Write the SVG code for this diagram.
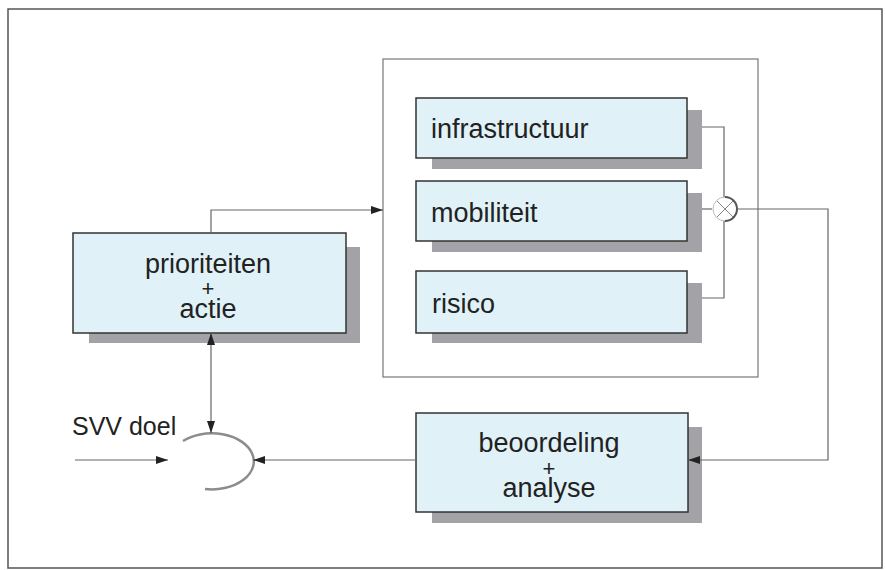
<svg xmlns="http://www.w3.org/2000/svg" width="885" height="570" viewBox="0 0 885 570">
<defs>
<marker id="arr" viewBox="0 0 12 8" refX="12" refY="4" markerWidth="12" markerHeight="8" markerUnits="userSpaceOnUse" orient="auto-start-reverse">
<path d="M0,0 L12,4 L0,8 z" fill="#222"/>
</marker>
<style>
.box{fill:#e0f1f7;stroke:#333;stroke-width:1.5}
.sh{fill:#a3a3a7}
.ln{fill:none;stroke:#666;stroke-width:1.2}
.t{font-family:"Liberation Sans",Arial,sans-serif;font-size:27px;fill:#222}
.c{text-anchor:middle}
.p{font-size:22px}
</style>
</defs>
<rect width="885" height="570" fill="#fff"/>
<rect x="8" y="9" width="874" height="559" fill="none" stroke="#555" stroke-width="1.5"/>

<g id="container">
<rect x="383" y="59" width="375" height="318" fill="none" stroke="#777" stroke-width="1.2"/>
</g>

<g id="node-prioriteiten">
<rect class="sh" x="89" y="247" width="271" height="96"/>
<rect class="box" x="73" y="233" width="273" height="100"/>
<text class="t c"><tspan x="208" y="273">prioriteiten</tspan><tspan class="p" x="208" y="296">+</tspan><tspan x="208" y="318">actie</tspan></text>
</g>

<g id="node-infrastructuur">
<rect class="sh" x="432" y="110" width="270" height="59"/>
<rect class="box" x="416" y="98" width="271" height="60"/>
<text class="t" x="431" y="138">infrastructuur</text>
</g>

<g id="node-mobiliteit">
<rect class="sh" x="432" y="193" width="270" height="59"/>
<rect class="box" x="416" y="181" width="271" height="60"/>
<text class="t" x="431" y="222">mobiliteit</text>
</g>

<g id="node-risico">
<rect class="sh" x="432" y="283" width="270" height="60"/>
<rect class="box" x="416" y="271" width="271" height="62"/>
<text class="t" x="432" y="313">risico</text>
</g>

<g id="node-multiplier">
<circle cx="725" cy="209" r="12" fill="#fff" stroke="#bbb" stroke-width="1"/>
<path d="M725,197 A12,12 0 0 1 725,221" fill="none" stroke="#555" stroke-width="2"/>
<path d="M717,201 L733,217 M733,201 L717,217" stroke="#888" stroke-width="1"/>
</g>

<g id="node-beoordeling">
<rect class="sh" x="432" y="427" width="270" height="96"/>
<rect class="box" x="416" y="413" width="272" height="99"/>
<text class="t c"><tspan x="549" y="452">beoordeling</tspan><tspan class="p" x="549" y="476">+</tspan><tspan x="549" y="497">analyse</tspan></text>
</g>

<g id="node-comparator">
<path d="M183,441 A42,28 0 1 1 205,489" fill="none" stroke="#8c8c8c" stroke-width="2.5"/>
</g>

<g id="label-svv">
<text class="t" x="72" y="435" style="font-size:25px">SVV doel</text>
</g>

<g id="connectors">
<path class="ln" d="M211,233 V210 H383" marker-end="url(#arr)"/>
<path class="ln" d="M702,127 H724 V197"/>
<path class="ln" d="M702,209 H712"/>
<path class="ln" d="M702,298 H724 V221"/>
<path class="ln" d="M737,209 H828 V460 H688" marker-end="url(#arr)"/>
<path class="ln" d="M416,460 H253" marker-end="url(#arr)"/>
<path class="ln" d="M75,460 H168" marker-end="url(#arr)"/>
<path class="ln" d="M211,333 V433" marker-start="url(#arr)" marker-end="url(#arr)"/>
</g>
</svg>
